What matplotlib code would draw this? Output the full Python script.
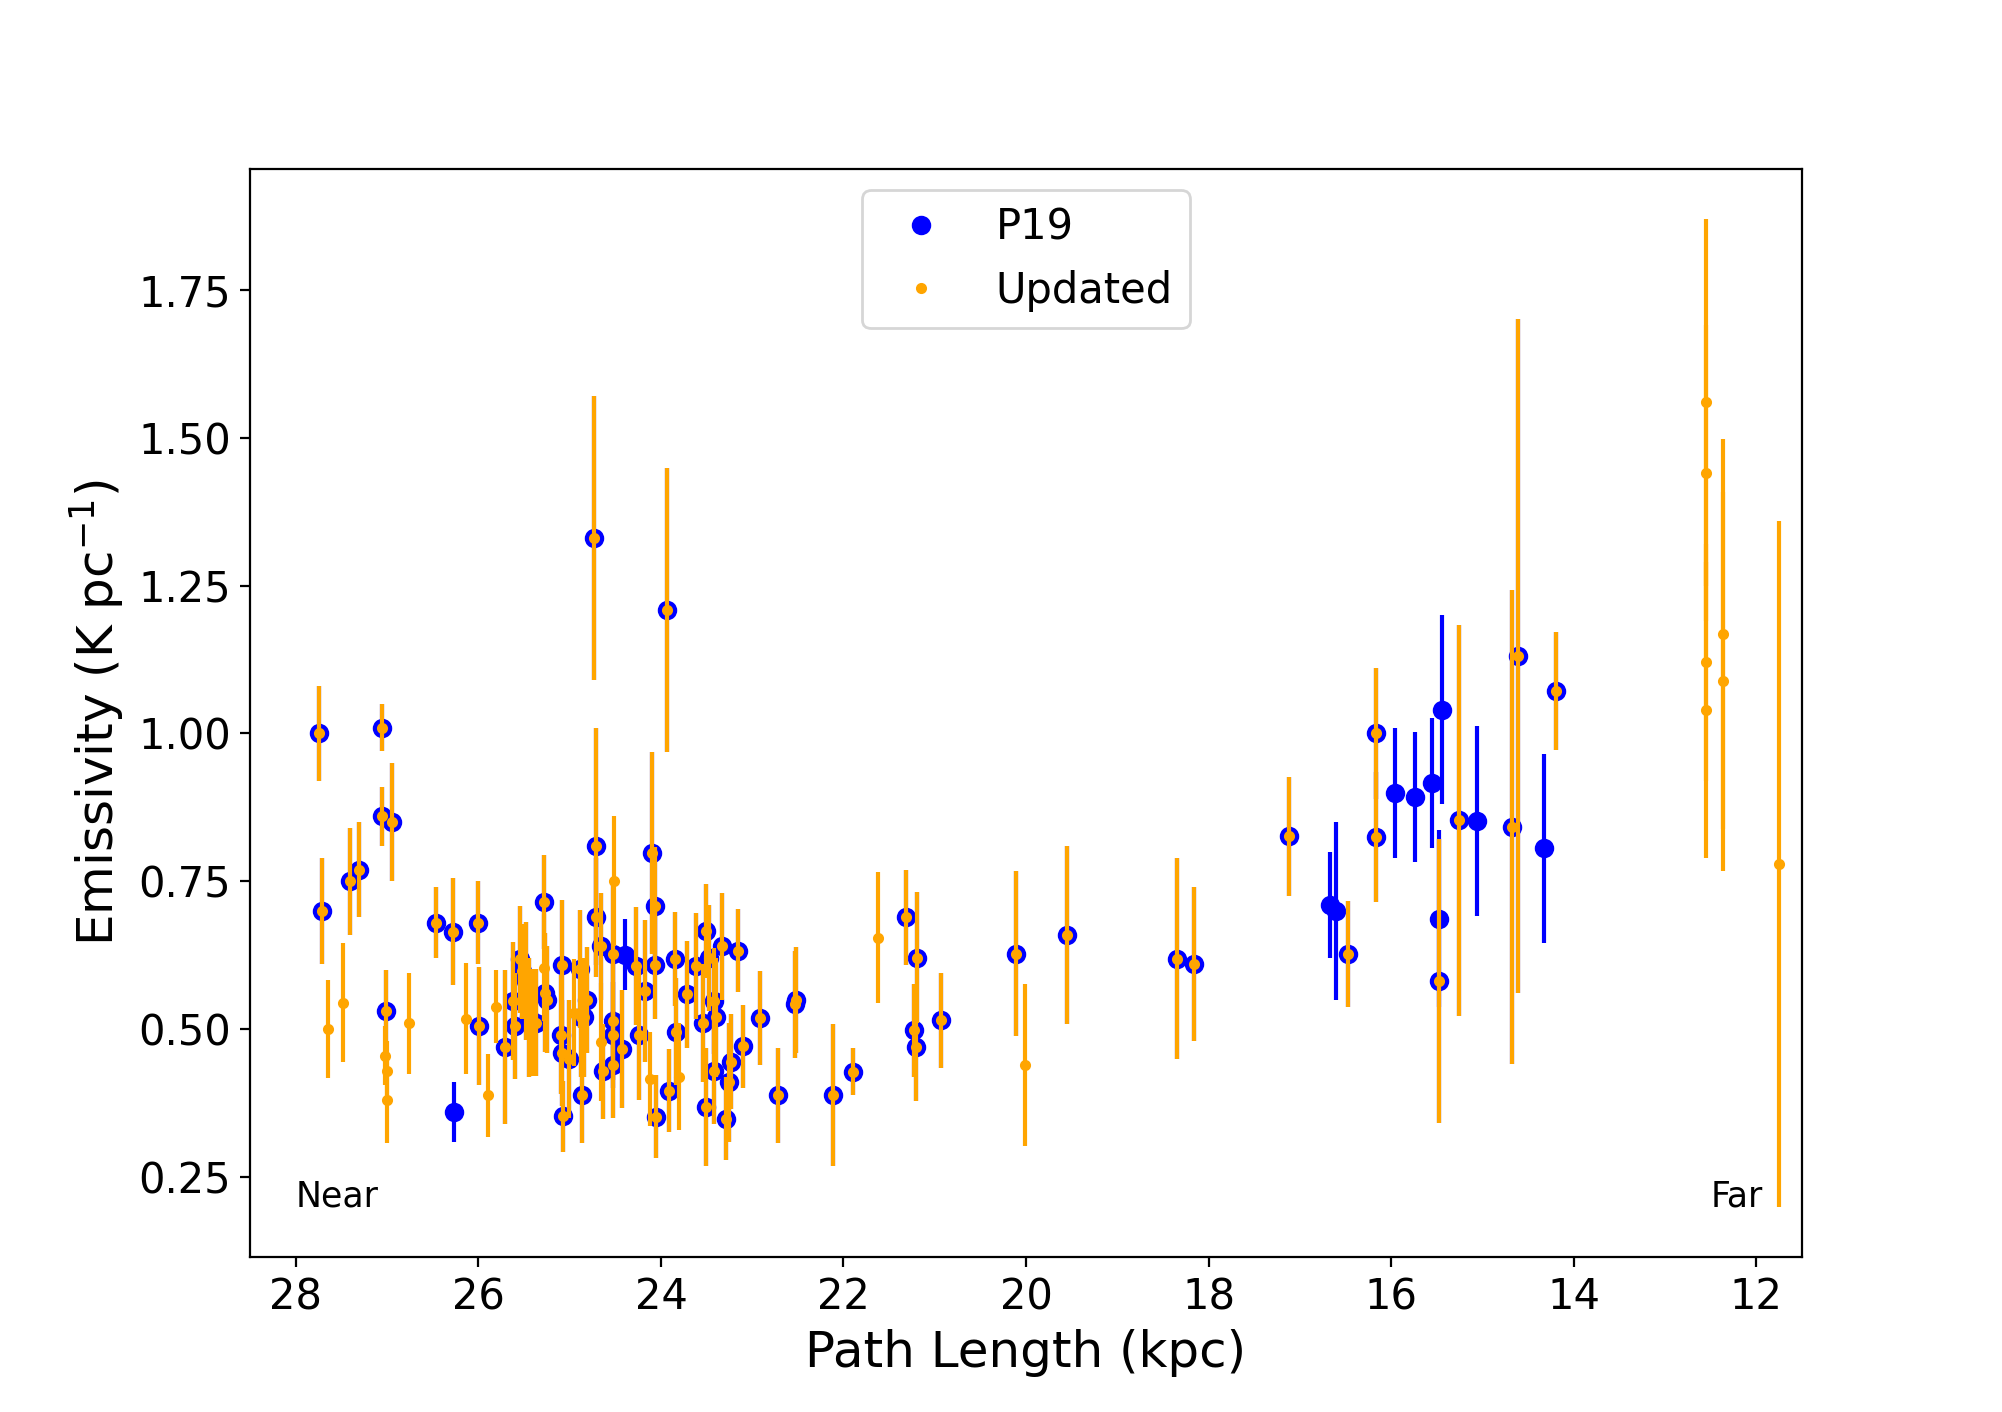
import matplotlib
matplotlib.use("Agg")
import matplotlib.pyplot as plt
from matplotlib.lines import Line2D
import numpy as np

# ---- Points shared by P19 and the updated set (x kpc, emissivity, error) ----
shared_x = [27.75, 27.71, 27.41, 27.31, 27.06, 27.06, 26.95, 27.01, 26.46, 26.28,
            26.00, 25.99, 25.71, 25.62, 25.60, 25.54, 25.52, 25.48, 25.45, 25.37,
            25.28, 25.27, 25.25, 25.08, 25.09, 25.08, 25.01, 25.07, 24.89, 24.86,
            24.81, 24.84, 24.73, 24.71, 24.71, 24.66, 24.64, 24.53, 24.53, 24.53,
            24.43, 24.27, 24.24, 24.18, 24.10, 24.07, 24.07, 24.05, 23.93, 23.91,
            23.85, 23.84, 23.72, 23.62, 23.54, 23.51, 23.51, 23.47, 23.42, 23.40,
            23.42, 23.33, 23.29, 23.25, 23.23, 23.16, 23.10, 22.92, 22.72, 22.53,
            22.52, 22.11, 21.90, 21.31, 21.20, 21.23, 21.21, 20.93, 20.11, 19.55,
            18.35, 18.16, 17.12, 16.47, 16.16, 16.17, 15.48, 15.26, 14.67, 14.61,
            14.19, 25.41, 24.88, 24.52]
shared_y = [1.00, 0.70, 0.75, 0.77, 1.01, 0.86, 0.85, 0.53, 0.68, 0.665,
            0.68, 0.506, 0.47, 0.548, 0.505, 0.618, 0.598, 0.582, 0.52, 0.511,
            0.715, 0.562, 0.55, 0.608, 0.491, 0.46, 0.45, 0.353, 0.602, 0.388,
            0.549, 0.52, 1.33, 0.809, 0.689, 0.640, 0.429, 0.627, 0.514, 0.44,
            0.466, 0.607, 0.491, 0.565, 0.798, 0.708, 0.608, 0.352, 1.209, 0.396,
            0.619, 0.496, 0.559, 0.607, 0.511, 0.666, 0.369, 0.62, 0.548, 0.52,
            0.43, 0.640, 0.349, 0.41, 0.445, 0.633, 0.471, 0.519, 0.388, 0.542,
            0.549, 0.388, 0.428, 0.689, 0.621, 0.498, 0.470, 0.515, 0.628, 0.659,
            0.619, 0.610, 0.826, 0.627, 1.00, 0.825, 0.582, 0.853, 0.842, 1.131,
            1.072, 0.511, 0.52, 0.49]
shared_err = [0.08, 0.09, 0.09, 0.08, 0.04, 0.05, 0.10, 0.07, 0.06, 0.09,
              0.07, 0.10, 0.13, 0.10, 0.09, 0.09, 0.08, 0.10, 0.10, 0.09,
              0.08, 0.10, 0.09, 0.11, 0.10, 0.09, 0.10, 0.06, 0.10, 0.08,
              0.09, 0.10, 0.24, 0.20, 0.10, 0.09, 0.08, 0.12, 0.10, 0.09,
              0.10, 0.10, 0.11, 0.12, 0.17, 0.10, 0.09, 0.07, 0.24, 0.07,
              0.08, 0.09, 0.09, 0.09, 0.10, 0.08, 0.10, 0.09, 0.09, 0.10,
              0.09, 0.09, 0.07, 0.10, 0.08, 0.07, 0.07, 0.08, 0.08, 0.09,
              0.09, 0.12, 0.04, 0.08, 0.111, 0.079, 0.092, 0.08, 0.14, 0.15,
              0.17, 0.13, 0.10, 0.09, 0.11, 0.11, 0.24, 0.33, 0.40, 0.57,
              0.10, 0.09, 0.10, 0.09]

# ---- P19-only points ----
p19_only_x = [26.27, 24.39, 16.67, 16.60, 15.96, 15.74, 15.55, 15.44, 15.47, 15.06, 14.32]
p19_only_y = [0.36, 0.626, 0.71, 0.70, 0.899, 0.892, 0.916, 1.04, 0.687, 0.852, 0.806]
p19_only_err = [0.05, 0.06, 0.09, 0.15, 0.11, 0.11, 0.11, 0.16, 0.15, 0.16, 0.16]

# ---- Updated-only points ----
upd_only_x = [27.65, 27.48, 27.02, 27.00, 27.00, 26.76, 26.14, 25.90, 25.81, 25.28,
              24.95, 24.51, 24.66, 24.12, 23.80, 21.62, 20.01,
              12.55, 12.55, 12.55, 12.55, 12.36, 12.36, 11.75]
upd_only_y = [0.50, 0.545, 0.455, 0.43, 0.38, 0.51, 0.518, 0.388, 0.538, 0.604,
              0.528, 0.750, 0.478, 0.416, 0.42, 0.655, 0.439,
              1.56, 1.44, 1.12, 1.04, 1.168, 1.088, 0.779]
upd_only_err = [0.083, 0.10, 0.05, 0.05, 0.072, 0.085, 0.094, 0.07, 0.062, 0.09,
                0.09, 0.11, 0.10, 0.08, 0.09, 0.111, 0.137,
                0.31, 0.25, 0.20, 0.25, 0.33, 0.32, 0.58]

series_labels = ["P19", "Updated"]
xticks = [28, 26, 24, 22, 20, 18, 16, 14, 12]
yticks = [0.25, 0.50, 0.75, 1.00, 1.25, 1.50, 1.75]

p19_x = np.array(shared_x + p19_only_x)
p19_y = np.array(shared_y + p19_only_y)
p19_e = np.array(shared_err + p19_only_err)
upd_x = np.array(shared_x + upd_only_x)
upd_y = np.array(shared_y + upd_only_y)
upd_e = np.array(shared_err + upd_only_err)

fig = plt.figure(figsize=(10.01, 7.06), dpi=200)
ax = fig.add_subplot(111)

ax.errorbar(p19_x, p19_y, yerr=p19_e, fmt='o', color='blue', ms=6, lw=1.5, zorder=2)
ax.errorbar(upd_x, upd_y, yerr=upd_e, fmt='.', color='orange', ms=6, lw=1.5, zorder=3)

ax.set_xlim(28.5, 11.5)
ax.set_xticks(xticks)
ax.set_yticks(yticks)
ax.tick_params(labelsize=15)
ax.set_xlabel("Path Length (kpc)", fontsize=18)
ax.set_ylabel("Emissivity (K pc$^{-1}$)", fontsize=18)

ax.text(28.0, 0.2, "Near", fontsize=12.5)
ax.text(12.5, 0.2, "Far", fontsize=12.5)

handles = [Line2D([], [], marker='o', ls='', color='blue', ms=6),
           Line2D([], [], marker='.', ls='', color='orange', ms=6)]
ax.legend(handles, series_labels, loc='upper center', fontsize=15)

fig.savefig("out.png", dpi=200)
